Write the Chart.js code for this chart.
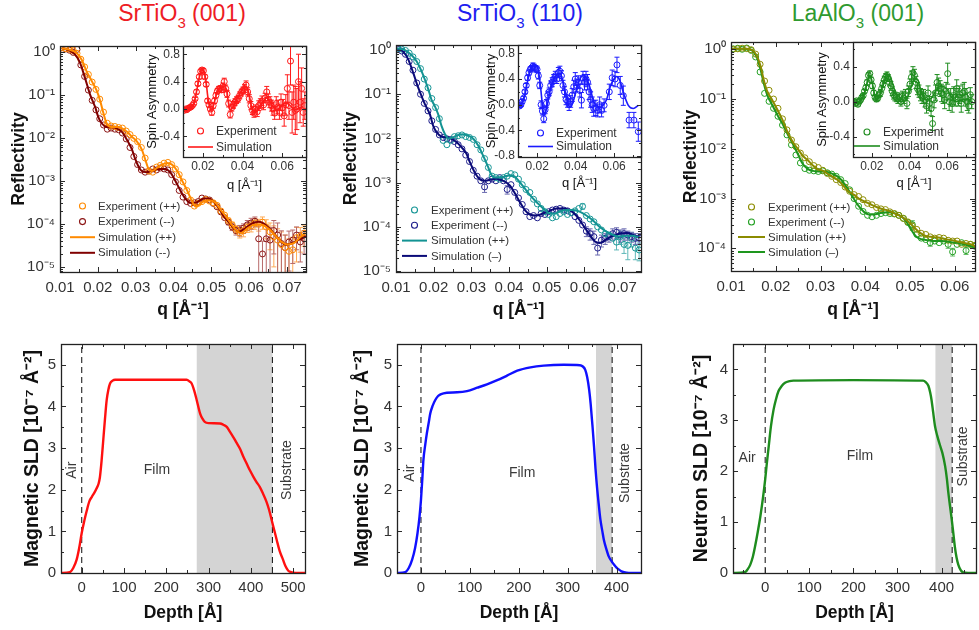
<!DOCTYPE html>
<html><head><meta charset="utf-8">
<script src="https://cdn.jsdelivr.net/npm/chart.js@4.4.1/dist/chart.umd.min.js"></script>
<style>
html,body{margin:0;padding:0;background:#fff}
body{width:979px;height:630px;position:relative;overflow:hidden;font-family:'Liberation Sans',Arial,sans-serif}
canvas{position:absolute}
.ttl{position:absolute;top:0;width:220px;text-align:center;font-size:23px;line-height:27px}
.ttl sub{font-size:15px;vertical-align:-7px;line-height:0}
</style></head><body>
<div class="ttl" style="left:72px;color:#ee1c25">SrTiO<sub>3</sub> (001)</div>
<div class="ttl" style="left:410px;color:#1e1ef0">SrTiO<sub>3</sub> (110)</div>
<div class="ttl" style="left:748px;color:#2f9a2f">LaAlO<sub>3</sub> (001)</div>
<script>
// ---------------- tick values / labels ----------------
const qTicks = [0.01,0.02,0.03,0.04,0.05,0.06,0.07];
const qTickLabels = ['0.01','0.02','0.03','0.04','0.05','0.06','0.07'];
const qTicksLAO = [0.01,0.02,0.03,0.04,0.05,0.06];
const qTickLabelsLAO = ['0.01','0.02','0.03','0.04','0.05','0.06'];
const reflTicks = [1,0.1,0.01,0.001,1e-4,1e-5];
const reflTickLabels = ['10⁰','10⁻¹','10⁻²','10⁻³','10⁻⁴','10⁻⁵'];
const reflTicksLAO = [1,0.1,0.01,0.001,1e-4];
const reflTickLabelsLAO = ['10⁰','10⁻¹','10⁻²','10⁻³','10⁻⁴'];
const insetQTicks = [0.02,0.04,0.06];
const insetQTickLabels = ['0.02','0.04','0.06'];
const saTicks001 = [-0.4,0,0.4,0.8];
const saTickLabels001 = ['-0.4','0.0','0.4','0.8'];
const saTicks110 = [-0.8,-0.4,0,0.4,0.8];
const saTickLabels110 = ['-0.8','-0.4','0.0','0.4','0.8'];
const saTicksLAO = [-0.4,0,0.4];
const saTickLabelsLAO = ['-0.4','0.0','0.4'];
const depthTicks500 = [0,100,200,300,400,500];
const depthTickLabels500 = ['0','100','200','300','400','500'];
const depthTicks400 = [0,100,200,300,400];
const depthTickLabels400 = ['0','100','200','300','400'];
const sldTicks5 = [0,1,2,3,4,5];
const sldTickLabels5 = ['0','1','2','3','4','5'];
const sldTicks4 = [0,1,2,3,4];
const sldTickLabels4 = ['0','1','2','3','4'];

// ---------------- SrTiO3 (001) ----------------
const sto001ExpUp = [[0.0105,1.25],[0.0115,1.2],[0.0125,1.16],[0.0135,1.08],[0.0145,0.93],[0.0155,0.68],[0.0165,0.45],[0.0175,0.3],[0.0185,0.2],[0.0195,0.135],[0.0205,0.08],[0.0215,0.04],[0.0225,0.022],[0.0235,0.019],[0.0245,0.0185],[0.0255,0.0175],[0.0265,0.017],[0.0275,0.0145],[0.0285,0.012],[0.0295,0.0098],[0.0305,0.0082],[0.0315,0.006],[0.0325,0.0034],[0.0335,0.0017],[0.0345,0.0016],[0.0355,0.0021],[0.0365,0.0023],[0.0375,0.0026],[0.0385,0.0027],[0.0395,0.0024],[0.0405,0.0019],[0.0415,0.0014],[0.0425,0.00095],[0.0435,0.0006],[0.0445,0.00036],[0.0455,0.00026],[0.0465,0.0003],[0.0475,0.00033],[0.0485,0.00037],[0.0495,0.00034],[0.0505,0.00031],[0.0515,0.00027],[0.0525,0.0002],[0.0535,0.00016],[0.0545,0.00012,1.5e-5],[0.0555,9.5e-5,1.5e-5],[0.0565,7.5e-5,1.5e-5],[0.0575,6.2e-5,1.5e-5],[0.0585,7e-5,2e-5],[0.0595,8.3e-5,2e-5],[0.0605,9e-5,2.5e-5],[0.0615,1.05e-4,3e-5],[0.0625,9.8e-5,3e-5],[0.0635,1.1e-4,3.5e-5],[0.0645,8.5e-5,4e-5],[0.0655,6.5e-5,4e-5],[0.0665,5e-5,4e-5],[0.0675,4.2e-5,3.5e-5],[0.0685,3.3e-5,3.2e-5],[0.0695,2.8e-5,2.7e-5],[0.0705,2.3e-5,2.2e-5],[0.0715,2.5e-5,2.4e-5],[0.0725,4.8e-5,3.5e-5],[0.0735,5.2e-5,3e-5],[0.0745,6e-5,3e-5]];
const sto001ExpDn = [[0.0105,1.25],[0.0115,1.18],[0.0125,1.1],[0.0135,0.98],[0.0145,1.15],[0.0155,0.5],[0.0165,0.27],[0.0175,0.13],[0.0185,0.075],[0.0195,0.045],[0.0205,0.028],[0.0215,0.02],[0.0225,0.016],[0.0235,0.017],[0.0245,0.016],[0.0255,0.0155],[0.0265,0.013],[0.0275,0.0095],[0.0285,0.006],[0.0295,0.0037],[0.0305,0.0024],[0.0315,0.0018],[0.0325,0.0016],[0.0335,0.0017],[0.0345,0.0019],[0.0355,0.0018],[0.0365,0.002],[0.0375,0.0019],[0.0385,0.0018],[0.0395,0.0014],[0.0405,0.00095],[0.0415,0.0006],[0.0425,0.00042],[0.0435,0.00033],[0.0445,0.0003],[0.0455,0.00031],[0.0465,0.00033],[0.0475,0.0004],[0.0485,0.00038],[0.0495,0.00036],[0.0505,0.0003],[0.0515,0.00025],[0.0525,0.00019],[0.0535,0.00014],[0.0545,0.00011,1.5e-5],[0.0555,8.5e-5,1.5e-5],[0.0565,7e-5,1.5e-5],[0.0575,7.2e-5,2e-5],[0.0585,8e-5,2e-5],[0.0595,9.5e-5,2.5e-5],[0.0605,1.05e-4,3e-5],[0.0615,1.15e-4,3e-5],[0.0625,4.5e-5,4.4e-5],[0.0635,2e-5,1.95e-5],[0.0645,4.5e-5,4.4e-5],[0.0655,4.2e-5,4.1e-5],[0.0665,7e-5,5e-5],[0.0675,5.5e-5,5e-5],[0.0685,3.5e-5,3.4e-5],[0.0695,2.8e-5,2.7e-5],[0.0705,3.8e-5,3e-5],[0.0715,4.2e-5,3e-5],[0.0725,5.5e-5,3e-5],[0.0735,3.8e-5,2.5e-5],[0.0745,4.5e-5,2.5e-5]];
const sto001SimUp = [[0.0104,1.23],[0.0126,1.12],[0.0144,0.95],[0.0157,0.67],[0.017,0.36],[0.0184,0.21],[0.0197,0.126],[0.0206,0.074],[0.0215,0.037],[0.0223,0.022],[0.0236,0.018],[0.025,0.018],[0.0263,0.017],[0.0277,0.014],[0.029,0.0107],[0.0303,0.0083],[0.0316,0.0054],[0.0325,0.0032],[0.0334,0.0019],[0.0343,0.0017],[0.0356,0.002],[0.037,0.0024],[0.0383,0.0026],[0.0396,0.0024],[0.041,0.0017],[0.0423,0.001],[0.0436,0.0006],[0.045,0.00032],[0.0459,0.00025],[0.0472,0.0003],[0.0485,0.00035],[0.0499,0.00035],[0.0512,0.0003],[0.0525,0.00021],[0.0539,0.000147],[0.0552,0.0001],[0.0565,7.2e-5],[0.0578,6.1e-5],[0.0596,8e-5],[0.0614,9.5e-5],[0.0632,9.5e-5],[0.0649,8e-5],[0.0667,5.6e-5],[0.0684,3.9e-5],[0.0702,3.3e-5],[0.0719,3.6e-5],[0.0737,5.1e-5],[0.075,6.1e-5]];
const sto001SimDn = [[0.0104,1.23],[0.0126,1.07],[0.014,0.87],[0.0153,0.56],[0.0166,0.25],[0.0179,0.105],[0.0193,0.052],[0.0201,0.031],[0.021,0.022],[0.0223,0.018],[0.0236,0.0177],[0.025,0.0167],[0.0263,0.014],[0.0277,0.009],[0.029,0.0054],[0.0299,0.0032],[0.0307,0.0022],[0.0316,0.0017],[0.0329,0.0016],[0.0347,0.0018],[0.0365,0.0019],[0.0378,0.0019],[0.0391,0.0016],[0.0405,0.001],[0.0418,0.0006],[0.0431,0.00039],[0.0444,0.00031],[0.0462,0.00032],[0.048,0.00039],[0.0493,0.00039],[0.0507,0.00032],[0.052,0.00023],[0.0533,0.000147],[0.0546,0.00011],[0.0559,7.9e-5],[0.0573,6.6e-5],[0.059,7.9e-5],[0.0608,0.000103],[0.0626,0.000112],[0.0643,9.5e-5],[0.0661,6.6e-5],[0.0679,4.3e-5],[0.0696,3.3e-5],[0.0714,3.6e-5],[0.0732,4.3e-5],[0.075,5.1e-5]];
const sto001SaExp = [[0.0105,-0.02,0.02],[0.0112,0,0.02],[0.0119,-0.01,0.02],[0.0126,0.01,0.02],[0.0133,0.02,0.02],[0.014,0.03,0.02],[0.0147,0.05,0.02],[0.0154,0.08,0.02],[0.0161,0.15,0.02],[0.0168,0.25,0.03],[0.0175,0.37,0.03],[0.0182,0.47,0.03],[0.0189,0.55,0.03],[0.0196,0.57,0.03],[0.0203,0.56,0.03],[0.021,0.47,0.03],[0.0217,0.36,0.03],[0.0224,0.12,0.03],[0.0231,0.06,0.03],[0.0238,0,0.03],[0.0245,-0.05,0.04],[0.0252,0.05,0.04],[0.0259,0.12,0.04],[0.0266,0.2,0.04],[0.0273,0.26,0.04],[0.028,0.29,0.04],[0.0287,0.3,0.04],[0.0294,0.28,0.04],[0.0301,0.33,0.05],[0.0308,0.4,0.05],[0.0315,0.3,0.05],[0.0322,0.22,0.05],[0.033,0.08,0.05],[0.0338,-0.08,0.05],[0.0346,0.02,0.05],[0.0354,0.06,0.05],[0.0362,0.1,0.05],[0.037,0.13,0.05],[0.0378,0.15,0.05],[0.0386,0.2,0.05],[0.0394,0.24,0.05],[0.0402,0.27,0.05],[0.041,0.3,0.06],[0.0418,0.35,0.06],[0.0426,0.25,0.06],[0.0434,0.15,0.06],[0.0442,0.05,0.06],[0.045,-0.02,0.06],[0.0458,-0.06,0.06],[0.0466,0,0.06],[0.0474,-0.04,0.07],[0.0482,0.05,0.07],[0.049,0.08,0.07],[0.0498,0.12,0.07],[0.0506,0.06,0.07],[0.0514,0.16,0.07],[0.0522,0.25,0.08],[0.053,0.14,0.08],[0.0538,0.1,0.08],[0.0546,0.05,0.08],[0.0554,0,0.09],[0.0562,-0.06,0.09],[0.057,0.08,0.1],[0.0578,0.03,0.1],[0.0586,-0.05,0.1],[0.0594,0.1,0.12],[0.0602,0.02,0.12],[0.061,-0.1,0.15],[0.0618,0.06,0.15],[0.0626,0.3,0.2],[0.0634,0.05,0.2],[0.0642,0.7,0.35],[0.065,-0.05,0.3],[0.0658,0.1,0.25],[0.0666,-0.02,0.35],[0.0674,0,0.3],[0.0682,0.4,0.4],[0.069,0.1,0.3],[0.0698,0.3,0.3],[0.0706,-0.05,0.2],[0.0714,0.05,0.2]];
const sto001SaSim = [[0.0112,-0.01],[0.0137,0.015],[0.0153,0.06],[0.017,0.28],[0.0183,0.47],[0.0195,0.57],[0.0207,0.54],[0.0217,0.38],[0.0225,0.18],[0.0237,0.015],[0.0245,-0.01],[0.0257,0.087],[0.027,0.23],[0.0287,0.3],[0.0303,0.33],[0.032,0.28],[0.0328,0.11],[0.0337,-0.01],[0.0353,0.04],[0.0378,0.18],[0.0403,0.3],[0.042,0.33],[0.0432,0.23],[0.0445,0.04],[0.0457,-0.05],[0.047,-0.03],[0.0487,0.04],[0.0503,0.11],[0.052,0.16],[0.0537,0.11],[0.0553,0.04],[0.057,-0.01],[0.0587,0.015],[0.0603,0.06],[0.062,0.087],[0.0637,0.06],[0.0653,0.015],[0.067,-0.01],[0.0687,0.015],[0.0703,0.04]];
const sto001Sld = [[-49,0],[-28,0.02],[-20,0.12],[-12,0.32],[-6,0.6],[0,0.96],[6,1.25],[12,1.5],[18,1.72],[24,1.83],[30,1.93],[35,2.03],[40,2.15],[43,2.3],[47,2.7],[51,3.2],[55,3.7],[59,4.15],[63,4.4],[67,4.55],[73,4.62],[79,4.64],[150,4.64],[248,4.64],[255,4.6],[260,4.55],[266,4.38],[272,4.15],[280,3.83],[286,3.7],[291,3.63],[300,3.6],[327,3.59],[335,3.56],[343,3.51],[350,3.4],[358,3.27],[366,3.13],[374,2.99],[382,2.8],[390,2.63],[398,2.46],[406,2.31],[413,2.19],[421,2.07],[429,1.9],[437,1.71],[443,1.52],[449,1.28],[455,1.04],[461,0.8],[468,0.53],[476,0.32],[482,0.16],[488,0.06],[495,0.02],[505,0],[528,0]];
const sto001Shade = [272,451];
const sto001Walls = [0,451];

// ---------------- SrTiO3 (110) ----------------
const sto110ExpUp = [[0.0105,1.1],[0.0115,1.05],[0.0125,0.98],[0.0135,0.85],[0.0145,0.7],[0.0155,0.55],[0.0165,0.38],[0.0175,0.22],[0.0185,0.14],[0.0195,0.08],[0.0205,0.05],[0.0215,0.028],[0.0225,0.009],[0.0235,0.0072],[0.0245,0.009],[0.0255,0.011],[0.0265,0.0115],[0.0275,0.012],[0.0285,0.011],[0.0295,0.0105],[0.0305,0.0095],[0.0315,0.0072],[0.0325,0.0055],[0.0335,0.0035],[0.0345,0.0022],[0.0355,0.0014],[0.0365,0.0013],[0.0375,0.0012],[0.0385,0.0013],[0.0395,0.0014],[0.0405,0.0016],[0.0415,0.0015],[0.0425,0.0012],[0.0435,0.0009],[0.0445,0.0007],[0.0455,0.0006],[0.0465,0.00042],[0.0475,0.00033],[0.0485,0.00026],[0.0495,0.00022],[0.0505,0.00019],[0.0515,0.00016],[0.0525,0.00017],[0.0535,0.0002],[0.0545,0.00022],[0.0555,0.00019],[0.0565,0.00021],[0.0575,0.00023],[0.0585,0.00026],[0.0595,0.00029,4e-5],[0.0605,0.00018],[0.0615,0.00015],[0.0625,0.00013],[0.0635,0.0001],[0.0645,8.5e-5],[0.0655,7e-5],[0.0665,6.5e-5],[0.0675,5.5e-5],[0.0685,4.5e-5,1.5e-5],[0.0695,6e-5,2e-5],[0.0705,4e-5,1.5e-5],[0.0715,3.8e-5,2e-5],[0.0725,5.5e-5,2e-5],[0.0735,3.3e-5,1.5e-5],[0.0745,3e-5,1.3e-5]];
const sto110ExpDn = [[0.0105,1.05],[0.0115,0.95],[0.0125,0.8],[0.0135,0.55],[0.0145,0.35],[0.0155,0.18],[0.0165,0.1],[0.0175,0.062],[0.0185,0.042],[0.0195,0.025],[0.0205,0.016],[0.0215,0.012],[0.0225,0.0105],[0.0235,0.0098],[0.0245,0.0095],[0.0255,0.0085],[0.0265,0.0072],[0.0275,0.0058],[0.0285,0.0042],[0.0295,0.003],[0.0305,0.0019],[0.0315,0.0014],[0.0325,0.0011],[0.0335,0.0008,2e-4],[0.0345,0.0011],[0.0355,0.0012],[0.0365,0.0011],[0.0375,0.0013],[0.0385,0.0011],[0.0395,0.0007,1.5e-4],[0.0405,0.0009],[0.0415,0.0006],[0.0425,0.00045],[0.0435,0.00032],[0.0445,0.00022],[0.0455,0.00017],[0.0465,0.00018],[0.0475,0.00016],[0.0485,0.0002],[0.0495,0.00019],[0.0505,0.00022],[0.0515,0.00024],[0.0525,0.00025],[0.0535,0.00026],[0.0545,0.00024],[0.0555,0.00023],[0.0565,0.00021],[0.0575,0.00017],[0.0585,0.00014],[0.0595,0.00011],[0.0605,8e-5,2e-5],[0.0615,7e-5,2e-5],[0.0625,6e-5,2e-5],[0.0635,3.3e-5,1e-5],[0.0645,5e-5,1.5e-5],[0.0655,5.5e-5,1.5e-5],[0.0665,6e-5,1.5e-5],[0.0675,7e-5,2e-5],[0.0685,7.5e-5,2e-5],[0.0695,6.5e-5,2e-5],[0.0705,7e-5,2e-5],[0.0715,6.5e-5,1.5e-5],[0.0725,6e-5,1.5e-5],[0.0735,5.5e-5,1.5e-5],[0.0745,5.5e-5,1.5e-5]];
const sto110SimUp = [[0.0102,1.09],[0.0124,1.0],[0.0141,0.77],[0.0155,0.55],[0.0168,0.33],[0.0177,0.21],[0.0186,0.127],[0.0194,0.076],[0.0203,0.054],[0.0212,0.035],[0.0221,0.019],[0.023,0.0125],[0.0239,0.01],[0.0252,0.0106],[0.0265,0.012],[0.0278,0.0125],[0.0292,0.0115],[0.0305,0.0098],[0.0318,0.0069],[0.0331,0.0041],[0.0344,0.0023],[0.0353,0.0015],[0.0362,0.0013],[0.0375,0.0013],[0.0389,0.00137],[0.0402,0.00146],[0.0415,0.00137],[0.0428,0.00103],[0.0442,0.00073],[0.0455,0.00053],[0.0468,0.0004],[0.0481,0.00031],[0.0495,0.00024],[0.0508,0.0002],[0.0521,0.0002],[0.0534,0.00022],[0.0552,0.00024],[0.057,0.00024],[0.0587,0.00022],[0.0605,0.00018],[0.0622,0.00014],[0.064,0.0001],[0.0658,7.8e-5],[0.0675,6.6e-5],[0.0693,6e-5],[0.0711,6.3e-5],[0.0728,6.3e-5],[0.0746,5.7e-5]];
const sto110SimDn = [[0.0102,1.09],[0.0119,0.92],[0.0133,0.6],[0.0146,0.3],[0.0156,0.165],[0.0168,0.09],[0.0177,0.059],[0.019,0.035],[0.0199,0.019],[0.0208,0.0137],[0.0221,0.011],[0.0234,0.0106],[0.0247,0.0098],[0.0261,0.0082],[0.0274,0.0063],[0.0287,0.0045],[0.0296,0.0029],[0.0309,0.0017],[0.0322,0.0012],[0.0336,0.0011],[0.0349,0.00116],[0.0367,0.00122],[0.0384,0.0011],[0.0402,0.00086],[0.0415,0.00058],[0.0428,0.00037],[0.0442,0.00024],[0.0455,0.00019],[0.0472,0.00018],[0.049,0.0002],[0.0508,0.00023],[0.0525,0.00026],[0.0543,0.00026],[0.0561,0.00024],[0.0578,0.00018],[0.0596,0.00011],[0.0614,6.6e-5],[0.0627,4.7e-5],[0.064,4.3e-5],[0.0658,5.2e-5],[0.0675,6.3e-5],[0.0693,7e-5],[0.0711,7.2e-5],[0.0728,6.6e-5],[0.0746,5.7e-5]];
const sto110SaExp = [[0.0108,-0.02,0.03],[0.0115,0,0.03],[0.0122,0.05,0.03],[0.0129,0.1,0.03],[0.0136,0.2,0.03],[0.0143,0.3,0.03],[0.015,0.42,0.04],[0.0157,0.5,0.04],[0.0164,0.55,0.04],[0.0171,0.57,0.04],[0.0178,0.6,0.05],[0.0185,0.58,0.05],[0.0192,0.56,0.05],[0.0199,0.55,0.05],[0.0206,0.45,0.05],[0.0213,0.3,0.05],[0.022,0,0.06],[0.0227,-0.1,0.06],[0.0234,-0.22,0.06],[0.0241,-0.08,0.06],[0.0248,0.02,0.06],[0.0255,0.15,0.06],[0.0262,0.2,0.06],[0.027,0.3,0.07],[0.0278,0.35,0.07],[0.0286,0.4,0.07],[0.0294,0.45,0.07],[0.0302,0.4,0.07],[0.031,0.5,0.08],[0.0318,0.52,0.08],[0.0326,0.45,0.08],[0.0334,0.3,0.08],[0.0342,0.2,0.08],[0.035,0.08,0.08],[0.0358,0.05,0.09],[0.0366,0,0.09],[0.0374,0.05,0.09],[0.0382,0.15,0.1],[0.039,0.28,0.1],[0.0398,0.4,0.1],[0.0406,0.3,0.1],[0.0414,0.35,0.1],[0.0422,0.22,0.1],[0.043,0.07,0.12],[0.0438,0.42,0.1],[0.0446,0.35,0.12],[0.0454,0.4,0.12],[0.0462,0.35,0.12],[0.047,0.2,0.12],[0.0478,0.08,0.12],[0.0486,0,0.12],[0.0494,-0.06,0.12],[0.0505,-0.05,0.12],[0.0515,-0.09,0.1],[0.0525,0,0.12],[0.0535,-0.09,0.1],[0.0548,-0.01,0.1],[0.0575,0.2,0.12],[0.059,0.42,0.12],[0.0605,0.4,0.12],[0.0615,0.62,0.12],[0.0632,0.3,0.14],[0.0648,0.14,0.15],[0.0678,-0.24,0.12],[0.0703,-0.24,0.12],[0.0726,-0.42,0.15]];
const sto110SaSim = [[0.011,-0.01],[0.0131,0.09],[0.0148,0.34],[0.0166,0.55],[0.0186,0.61],[0.0203,0.57],[0.0217,0.29],[0.0229,-0.06],[0.0238,-0.16],[0.0252,-0.01],[0.0269,0.24],[0.0286,0.39],[0.0303,0.47],[0.0317,0.49],[0.0329,0.42],[0.0347,0.19],[0.036,0.015],[0.0372,-0.035],[0.0386,0.04],[0.0403,0.22],[0.0421,0.39],[0.0438,0.45],[0.0455,0.42],[0.0472,0.29],[0.049,0.09],[0.0507,-0.02],[0.0528,-0.035],[0.0545,0],[0.0562,0.09],[0.0579,0.27],[0.0597,0.39],[0.0614,0.44],[0.0631,0.37],[0.0648,0.19],[0.0674,-0.01],[0.07,-0.06],[0.0726,-0.01]];
const sto110Sld = [[-49,0],[-32,0.02],[-25,0.12],[-18,0.32],[-12,0.6],[-7,0.96],[-3,1.35],[0,1.75],[3,2.3],[5,2.71],[9,3.1],[12,3.35],[16,3.62],[19,3.83],[24,4.02],[29,4.15],[35,4.25],[40,4.29],[53,4.33],[74,4.34],[94,4.37],[115,4.45],[135,4.53],[156,4.63],[176,4.74],[197,4.86],[224,4.94],[251,4.98],[292,5.0],[325,4.99],[331,4.96],[336,4.88],[340,4.7],[344,4.4],[347,4.07],[351,3.5],[354,3.03],[357,2.5],[360,2.07],[364,1.6],[367,1.28],[371,1.0],[374,0.8],[379,0.58],[384,0.4],[390,0.28],[395,0.2],[400,0.13],[405,0.08],[410,0.04],[415,0.02],[425,0],[450,0]];
const sto110Shade = [358,391];
const sto110Walls = [0,391];

// ---------------- LaAlO3 (001) ----------------
const laoExpUp = [[0.0105,1.0],[0.0115,1.02],[0.0125,1.05],[0.0135,1.03],[0.0145,0.98],[0.0155,0.8],[0.0165,0.5],[0.0175,0.23],[0.0185,0.15],[0.0195,0.1],[0.0205,0.065],[0.0215,0.04],[0.0225,0.024],[0.0235,0.015],[0.0245,0.011],[0.0255,0.0082],[0.0265,0.0066],[0.0275,0.0055],[0.0285,0.0046],[0.0295,0.0042],[0.0305,0.0037],[0.0315,0.0032],[0.0325,0.0028],[0.0335,0.0024],[0.0345,0.0021],[0.0355,0.0017],[0.0365,0.0014],[0.0375,0.0012],[0.0385,0.0011],[0.0395,0.00095],[0.0405,0.0008],[0.0415,0.00075],[0.0425,0.00066],[0.0435,0.00062],[0.0445,0.0006],[0.0455,0.00054],[0.0465,0.0005],[0.0475,0.00046],[0.0485,0.0004],[0.0495,0.00034],[0.0505,0.00028,5e-5],[0.0515,0.00024],[0.0525,0.0002],[0.0535,0.00019],[0.0545,0.00017],[0.0555,0.00016],[0.0565,0.000165],[0.0575,0.00016],[0.0585,0.000145],[0.0595,0.00014],[0.0605,0.00014],[0.0615,0.00012],[0.0625,0.000125],[0.0635,0.00012],[0.0645,0.000115]];
const laoExpDn = [[0.0105,1.02],[0.0115,1.05],[0.0125,1.0],[0.0135,1.06],[0.0145,0.95],[0.0155,0.7],[0.0165,0.35],[0.0175,0.13],[0.0185,0.09],[0.0195,0.065],[0.0205,0.045],[0.0215,0.03],[0.0225,0.019],[0.0235,0.012],[0.0245,0.0075],[0.0255,0.0052],[0.0265,0.004],[0.0275,0.0037],[0.0285,0.0036],[0.0295,0.0035],[0.0305,0.0036],[0.0315,0.0033],[0.0325,0.0031],[0.0335,0.0028],[0.0345,0.0024],[0.0355,0.002],[0.0365,0.0015],[0.0375,0.001],[0.0385,0.0007],[0.0395,0.00055],[0.0405,0.00046],[0.0415,0.00043],[0.0425,0.00046],[0.0435,0.0005],[0.0445,0.00052],[0.0455,0.0005],[0.0465,0.00049],[0.0475,0.00046],[0.0485,0.0004],[0.0495,0.00033],[0.0505,0.0003,6e-5],[0.0515,0.00019],[0.0525,0.00016],[0.0535,0.00015],[0.0545,0.00013,2e-5],[0.0555,0.00014],[0.0565,0.00013],[0.0575,0.00014],[0.0585,0.00012,2e-5],[0.0595,8.5e-5,1.5e-5],[0.0605,0.00012],[0.0615,0.00013],[0.0625,9e-5,1.5e-5],[0.0635,0.00012],[0.0645,0.00011]];
const laoSimUp = [[0.01,1.03],[0.0132,1.03],[0.0147,0.97],[0.0158,0.73],[0.0166,0.46],[0.0173,0.245],[0.0181,0.142],[0.0192,0.096],[0.0204,0.06],[0.0215,0.038],[0.0226,0.022],[0.0238,0.0137],[0.0249,0.01],[0.026,0.0073],[0.0272,0.0058],[0.0283,0.0046],[0.0294,0.0039],[0.0306,0.0036],[0.0317,0.0031],[0.0328,0.0027],[0.034,0.0023],[0.0351,0.0018],[0.0362,0.0014],[0.0374,0.0012],[0.0389,0.00096],[0.0404,0.00083],[0.0419,0.00071],[0.0434,0.00063],[0.0449,0.00058],[0.0464,0.00051],[0.048,0.00044],[0.0495,0.00035],[0.0506,0.00028],[0.0518,0.00022],[0.0533,0.00018],[0.0548,0.00017],[0.0563,0.000165],[0.0578,0.000153],[0.0593,0.000146],[0.0608,0.000135],[0.0624,0.000126],[0.0639,0.000118],[0.065,0.0001]];
const laoSimDn = [[0.01,1.03],[0.0132,1.03],[0.0147,0.95],[0.0158,0.68],[0.0166,0.39],[0.0173,0.21],[0.0181,0.12],[0.0192,0.076],[0.0204,0.047],[0.0215,0.032],[0.0226,0.02],[0.0238,0.0126],[0.0249,0.0079],[0.026,0.005],[0.0272,0.0039],[0.0283,0.0036],[0.0294,0.0035],[0.0306,0.0035],[0.0317,0.0034],[0.0328,0.0031],[0.034,0.0027],[0.0351,0.0021],[0.0362,0.0015],[0.0374,0.001],[0.0385,0.00071],[0.0397,0.00054],[0.0408,0.00048],[0.0419,0.00048],[0.0434,0.00051],[0.0449,0.00053],[0.0464,0.00051],[0.048,0.00044],[0.0491,0.00035],[0.0502,0.00024],[0.0514,0.00017],[0.0525,0.000153],[0.054,0.000146],[0.0555,0.00014],[0.057,0.00014],[0.0586,0.000135],[0.0601,0.00013],[0.0616,0.000124],[0.0631,0.000114],[0.065,0.0001]];
const laoSaExp = [[0.0105,0,0.02],[0.0112,-0.02,0.02],[0.0119,0.01,0.02],[0.0126,-0.03,0.02],[0.0133,0,0.02],[0.014,0.02,0.02],[0.0147,0.05,0.02],[0.0154,0.07,0.02],[0.0161,0.12,0.02],[0.0168,0.16,0.03],[0.0175,0.22,0.03],[0.0182,0.3,0.03],[0.0189,0.32,0.03],[0.0196,0.25,0.03],[0.0203,0.18,0.03],[0.021,0.1,0.03],[0.0217,0.05,0.03],[0.0224,0.03,0.03],[0.0231,0.04,0.03],[0.0238,0.08,0.03],[0.0245,0.1,0.04],[0.0252,0.15,0.04],[0.0259,0.2,0.04],[0.0266,0.25,0.04],[0.0273,0.28,0.04],[0.028,0.3,0.04],[0.0287,0.27,0.04],[0.0294,0.22,0.04],[0.0301,0.18,0.05],[0.0308,0.12,0.05],[0.0315,0.08,0.05],[0.0322,0.06,0.05],[0.033,0.05,0.05],[0.0338,0.03,0.05],[0.0346,0.05,0.05],[0.0354,0,0.05],[0.0362,0.06,0.06],[0.037,0.04,0.06],[0.0378,0.08,0.06],[0.0386,-0.02,0.06],[0.0394,0.12,0.06],[0.0402,0.2,0.06],[0.041,0.28,0.07],[0.0418,0.33,0.07],[0.0426,0.3,0.07],[0.0434,0.22,0.07],[0.0442,0.15,0.07],[0.045,0.12,0.07],[0.0458,0.08,0.07],[0.0466,0.05,0.07],[0.0474,0.06,0.08],[0.0482,0.02,0.08],[0.049,-0.05,0.08],[0.0498,0.1,0.08],[0.0506,-0.02,0.08],[0.0514,-0.08,0.08],[0.0522,-0.25,0.08],[0.053,0.02,0.09],[0.0538,0.1,0.09],[0.0546,0.22,0.09],[0.0554,0.18,0.09],[0.0562,0.15,0.09],[0.057,0.1,0.1],[0.0578,0.08,0.1],[0.0586,0.02,0.1],[0.0594,0.12,0.1],[0.0602,0.32,0.12],[0.061,0,0.1],[0.0618,0.05,0.1],[0.0626,-0.02,0.1],[0.0634,0.07,0.1],[0.0642,0.05,0.1],[0.065,0.15,0.1],[0.0658,0.05,0.1],[0.0666,0.08,0.1],[0.0674,-0.02,0.1],[0.0682,0.1,0.1],[0.069,0.12,0.1],[0.0698,0.05,0.1],[0.0706,0,0.1],[0.0714,-0.05,0.08],[0.0722,0.08,0.08],[0.073,0,0.08]];
const laoSaSim = [[0.0108,-0.02],[0.0135,0],[0.0161,0.095],[0.0179,0.25],[0.0191,0.3],[0.0205,0.19],[0.0219,0.04],[0.0232,0.027],[0.025,0.13],[0.0276,0.27],[0.0294,0.29],[0.0312,0.19],[0.0333,0.057],[0.0356,0],[0.0382,0.02],[0.0409,0.17],[0.0427,0.27],[0.0444,0.25],[0.0462,0.11],[0.0488,0.02],[0.0515,0.04],[0.0542,0.13],[0.0568,0.18],[0.0595,0.15],[0.0621,0.057],[0.0648,0],[0.0674,0.02],[0.0701,0.027],[0.0727,0]];
const laoSld = [[-73,0],[-45,0.02],[-40,0.07],[-34,0.16],[-28,0.32],[-23,0.52],[-17,0.8],[-11,1.11],[-5,1.48],[0,1.84],[4,2.18],[8,2.49],[13,2.88],[19,3.21],[25,3.43],[30,3.57],[37,3.67],[45,3.74],[55,3.77],[64,3.78],[200,3.79],[358,3.78],[364,3.75],[370,3.68],[374,3.55],[377,3.41],[381,3.15],[385,2.89],[390,2.7],[396,2.52],[402,2.35],[408,2.1],[412,1.85],[415,1.6],[419,1.32],[423,1.05],[427,0.75],[430,0.52],[434,0.3],[438,0.16],[443,0.06],[449,0.01],[460,0],[478,0]];
const laoShade = [386,424];
const laoWalls = [0,424];

// ---------------- drawing helpers ----------------
const FONT = "'Liberation Sans', Arial, sans-serif";
function hasFont(name){
  const c = document.createElement('canvas').getContext('2d');
  const s = 'abcdefghijklmnopqrstuvwxyz0123456789';
  c.font = '40px monospace'; const a = c.measureText(s).width;
  c.font = '40px "' + name + '", monospace'; const b = c.measureText(s).width;
  return Math.abs(a - b) > 0.5;
}
const NARROW = hasFont('Liberation Sans Narrow');
const TFONT = NARROW ? "'Liberation Sans Narrow', 'Liberation Sans', sans-serif" : FONT;
const SZ = NARROW ? {main: 17.5, inset: 13.5, legend: 13.5, ilegend: 13} : {main: 15, inset: 12, legend: 11.5, ilegend: 12};
const TXT = '#333';

function minorLinear(maj, min, max){
  const st = maj[1]-maj[0], out=[];
  for (let v = maj[0]-st/2; v <= max+1e-9; v += st) if (v >= min-1e-9) out.push(v);
  return out;
}
function minorLog(min, max){
  const out=[];
  for (let e = Math.floor(Math.log10(min)); e <= Math.ceil(Math.log10(max)); e++)
    for (let k = 2; k <= 9; k++){ const v = k*Math.pow(10,e); if (v>=min && v<=max) out.push(v); }
  return out;
}
function makeDeco(cfg){
  return {
    id:'deco',
    beforeDraw(c){
      const {ctx, chartArea:r} = c;
      if (cfg.fill){ ctx.save(); ctx.fillStyle = cfg.fill; ctx.fillRect(r.left, r.top, r.width, r.height); ctx.restore(); }
    },
    beforeDatasetsDraw(c){
      const {ctx, chartArea:r, scales:{x,y}} = c;
      ctx.save();
      if (cfg.shade){ const a = x.getPixelForValue(cfg.shade[0]), b = x.getPixelForValue(cfg.shade[1]); ctx.fillStyle = '#d4d4d4'; ctx.fillRect(a, r.top, b-a, r.height); }
      ctx.beginPath(); ctx.rect(r.left, r.top, r.width, r.height); ctx.clip();
      c.data.datasets.forEach(ds => {
        if (!ds.errors) return;
        ctx.strokeStyle = ds.errColor || ds.borderColor; ctx.lineWidth = 1;
        ds.data.forEach((pt, i) => {
          const e = ds.errors[i]; if (!e) return;
          const px = x.getPixelForValue(pt.x);
          const lo = pt.y - e, hi = pt.y + e;
          const pl = (y.type === 'logarithmic' && lo <= 0) ? r.bottom + 3 : y.getPixelForValue(lo);
          const ph = y.getPixelForValue(hi);
          ctx.beginPath();
          ctx.moveTo(px, pl); ctx.lineTo(px, ph);
          ctx.moveTo(px-2.5, pl); ctx.lineTo(px+2.5, pl);
          ctx.moveTo(px-2.5, ph); ctx.lineTo(px+2.5, ph);
          ctx.stroke();
        });
      });
      ctx.restore();
    },
    afterDraw(c){
      const {ctx, chartArea:r, scales:{x,y}} = c;
      ctx.save();
      ctx.strokeStyle = '#2b2b2b'; ctx.lineWidth = 1;
      ctx.beginPath();
      const ml = cfg.majLen || 5, nl = cfg.minLen || 3;
      const xt = (list, len) => list.forEach(v => { const p = Math.round(x.getPixelForValue(v))+0.5; ctx.moveTo(p, r.bottom); ctx.lineTo(p, r.bottom-len); ctx.moveTo(p, r.top); ctx.lineTo(p, r.top+len); });
      const yt = (list, len) => list.forEach(v => { const p = Math.round(y.getPixelForValue(v))+0.5; ctx.moveTo(r.left, p); ctx.lineTo(r.left+len, p); ctx.moveTo(r.right, p); ctx.lineTo(r.right-len, p); });
      xt(cfg.xMaj, ml); xt(cfg.xMin, nl); yt(cfg.yMaj, ml); yt(cfg.yMin, nl);
      ctx.stroke();
      ctx.lineWidth = 1.3; ctx.strokeStyle = '#222';
      ctx.strokeRect(Math.round(r.left)+0.5, Math.round(r.top)+0.5, Math.round(r.width), Math.round(r.height));
      if (cfg.legend){
        const L = cfg.legend, ds = c.data.datasets;
        ctx.font = L.size + 'px ' + TFONT; ctx.textBaseline = 'middle'; ctx.textAlign = 'left';
        L.items.forEach((idx, k) => {
          const d = ds[idx]; const yy = r.top + L.y + k*L.dy; const x0 = r.left + L.x;
          if (d.showLine === false){
            ctx.beginPath(); ctx.strokeStyle = d.borderColor; ctx.lineWidth = 1.1;
            ctx.arc(x0 + L.w/2, yy, 3, 0, Math.PI*2); ctx.stroke();
          } else {
            ctx.beginPath(); ctx.strokeStyle = d.borderColor; ctx.lineWidth = d.borderWidth;
            ctx.moveTo(x0, yy); ctx.lineTo(x0 + L.w, yy); ctx.stroke();
          }
          ctx.fillStyle = TXT; ctx.fillText(d.label, x0 + L.w + L.gap, yy + 0.5);
        });
      }
      if (cfg.notes){
        ctx.fillStyle = '#3a3a3a'; ctx.font = '14px ' + TFONT; ctx.textAlign = 'center'; ctx.textBaseline = 'middle';
        cfg.notes.forEach(n => {
          ctx.save(); ctx.translate(x.getPixelForValue(n.x), y.getPixelForValue(n.y));
          if (n.rot) ctx.rotate(-Math.PI/2);
          ctx.fillText(n.t, 0, 0); ctx.restore();
        });
      }
      ctx.restore();
    }
  };
}

function build(p){
  const lhY = p.yTitleSize*1.2, lhX = p.xTitleSize*1.2;
  const L = Math.round(p.box.l - p.yTitleX + lhY/2 + 2);
  const B = Math.round(p.xTitleY - p.box.b + lhX/2 + 2);
  const T = p.padT, R = p.padR;
  const cx = p.box.l - L, cy = p.box.t - T;
  const w = p.box.r + R - cx, h = p.box.b + B - cy;
  const cv = document.createElement('canvas');
  cv.width = w; cv.height = h; cv.style.left = cx+'px'; cv.style.top = cy+'px';
  cv.style.width = w+'px'; cv.style.height = h+'px';
  document.body.appendChild(cv);
  const tickFont = {family: TFONT, size: p.tickSize};
  const wt = p.bold ? 'bold' : 'normal';
  const deco = Object.assign({}, p.deco, {
    xMaj: p.x.ticks, xMin: minorLinear(p.x.ticks, p.x.min, p.x.max),
    yMaj: p.y.ticks, yMin: p.y.type === 'logarithmic' ? minorLog(p.y.min, p.y.max) : minorLinear(p.y.ticks, p.y.min, p.y.max)
  });
  return new Chart(cv, {
    type: 'line',
    data: {datasets: p.datasets},
    options: {
      responsive: false, animation: false, devicePixelRatio: 1,
      layout: {padding: {left: 0, right: R, top: T, bottom: 0}},
      plugins: {legend: {display: false}, tooltip: {enabled: false}},
      scales: {
        x: {type: 'linear', position: 'bottom', min: p.x.min, max: p.x.max,
          afterFit(s){ s.height = B; },
          afterBuildTicks(s){ s.ticks = p.x.ticks.map(v => ({value: v})); },
          ticks: {callback: (v, i) => p.x.labels[i], font: tickFont, color: TXT, padding: p.xPad, maxRotation: 0, autoSkip: false, includeBounds: false},
          grid: {display: false, drawTicks: false}, border: {display: false},
          title: {display: true, text: p.x.title, font: {family: FONT, size: p.xTitleSize, weight: wt, lineHeight: 1.2}, color: '#111', padding: {top: 2, bottom: 2}}},
        y: {type: p.y.type, position: 'left', min: p.y.min, max: p.y.max,
          afterFit(s){ s.width = L; },
          afterBuildTicks(s){ s.ticks = p.y.ticks.map(v => ({value: v})); },
          ticks: {callback: (v, i) => p.y.labels[i], font: tickFont, color: TXT, padding: p.yPad, autoSkip: false, includeBounds: false},
          grid: {display: false, drawTicks: false}, border: {display: false},
          title: {display: true, text: p.y.title, font: {family: FONT, size: p.yTitleSize, weight: wt, lineHeight: 1.2}, color: '#111', padding: {top: 2, bottom: 2}}}
      }
    },
    plugins: [makeDeco(deco)]
  });
}

const pts = a => a.map(d => ({x: d[0], y: d[1]}));
const errs = a => a.map(d => d[2] || 0);
function expDs(label, arr, col, ecol, r){
  return {label, data: pts(arr), errors: errs(arr), errColor: ecol, showLine: false, borderColor: col,
    pointBorderColor: col, pointBackgroundColor: 'rgba(0,0,0,0)', pointRadius: r || 3, pointBorderWidth: 1, order: 1};
}
function simDs(label, arr, col, wdt){
  return {label, data: pts(arr), showLine: true, borderColor: col, borderWidth: wdt || 2, pointRadius: 0,
    cubicInterpolationMode: 'monotone', fill: false, order: 0};
}
function wallDs(xv, ymax){
  return {label: 'wall', data: [{x: xv, y: 0}, {x: xv, y: ymax}], showLine: true, borderColor: '#222', borderWidth: 1.1,
    borderDash: [6, 4], pointRadius: 0, fill: false, order: 2};
}

const qTitle = 'q [Å⁻¹]';
function mainPanel(o){
  return build({box: o.box, yTitleX: o.yTitleX, xTitleY: 310, xTitleSize: 17.5, yTitleSize: 17.5, bold: true, tickSize: SZ.main, xPad: 7, yPad: 5, padT: 16, padR: 18,
    x: {min: 0.01, max: o.xmax, ticks: o.xt, labels: o.xl, title: qTitle},
    y: {type: 'logarithmic', min: o.ymin, max: o.ymax, ticks: o.yt, labels: o.yl, title: 'Reflectivity'},
    datasets: o.ds, deco: {legend: o.legend}});
}
function insetPanel(o){
  return build({box: o.box, yTitleX: o.yTitleX, xTitleY: o.xTitleY, xTitleSize: 13, yTitleSize: 13, bold: false, tickSize: SZ.inset, xPad: 2, yPad: 3, padT: 12, padR: 12,
    x: {min: 0.01, max: o.xmax, ticks: insetQTicks, labels: insetQTickLabels, title: qTitle},
    y: {type: 'linear', min: o.ymin, max: o.ymax, ticks: o.yt, labels: o.yl, title: 'Spin Asymmetry'},
    datasets: o.ds, deco: {fill: '#fff', legend: o.legend, majLen: 4, minLen: 2}});
}
function sldPanel(o){
  return build({box: o.box, yTitleX: o.yTitleX, xTitleY: 613, xTitleSize: 17.5, yTitleSize: 19.5, bold: true, tickSize: SZ.main, xPad: 6, yPad: 5, padT: 16, padR: 16,
    x: {min: o.xmin, max: o.xmax, ticks: o.xt, labels: o.xl, title: 'Depth [Å]'},
    y: {type: 'linear', min: 0, max: o.ymax, ticks: o.yt, labels: o.yl, title: o.ytitle},
    datasets: [simDs('SLD', o.sld, o.col, 2.4), wallDs(o.walls[0], o.ymax), wallDs(o.walls[1], o.ymax)],
    deco: {shade: o.shade, notes: o.notes}});
}

mainPanel({box: {l: 60, t: 46, r: 306, b: 272}, yTitleX: 20, xmax: 0.075, xt: qTicks, xl: qTickLabels,
  ymin: 7.6e-6, ymax: 1.38, yt: reflTicks, yl: reflTickLabels,
  ds: [expDs('Experiment (++)', sto001ExpUp, '#ff8a00', '#ffab55'), expDs('Experiment (--)', sto001ExpDn, '#8b1414', '#b86a6a'),
       simDs('Simulation (++)', sto001SimUp, '#ff8a00'), simDs('Simulation (--)', sto001SimDn, '#800000')],
  legend: {items: [0,1,2,3], x: 10, y: 160, dy: 15.6, w: 25, gap: 3, size: SZ.legend}});
mainPanel({box: {l: 396, t: 45, r: 641, b: 272}, yTitleX: 352, xmax: 0.075, xt: qTicks, xl: qTickLabels,
  ymin: 9.5e-6, ymax: 1.3, yt: reflTicks, yl: reflTickLabels,
  ds: [expDs('Experiment (++)', sto110ExpUp, '#159595', '#5fb8b8'), expDs('Experiment (--)', sto110ExpDn, '#1c1c8a', '#6a6ab0'),
       simDs('Simulation (++)', sto110SimUp, '#139393'), simDs('Simulation (–)', sto110SimDn, '#0a0a78')],
  legend: {items: [0,1,2,3], x: 6, y: 165, dy: 15.3, w: 25, gap: 4, size: SZ.legend}});
mainPanel({box: {l: 731, t: 42, r: 975, b: 271}, yTitleX: 692, xmax: 0.0645, xt: qTicksLAO, xl: qTickLabelsLAO,
  ymin: 3.5e-5, ymax: 1.4, yt: reflTicksLAO, yl: reflTickLabelsLAO,
  ds: [expDs('Experiment (++)', laoExpUp, '#8c8c00', '#b0b050'), expDs('Experiment (--)', laoExpDn, '#22a022', '#66bb66'),
       simDs('Simulation (++)', laoSimUp, '#8b8b00'), simDs('Simulation (–)', laoSimDn, '#1e961e')],
  legend: {items: [0,1,2,3], x: 7, y: 165, dy: 15, w: 27, gap: 3, size: SZ.legend}});

insetPanel({box: {l: 183, t: 46, r: 306, b: 157}, yTitleX: 153, xTitleY: 185, xmax: 0.072, ymin: -0.7, ymax: 0.92,
  yt: saTicks001, yl: saTickLabels001,
  ds: [expDs('Experiment', sto001SaExp, '#ff1a1a', '#ff1a1a'), simDs('Simulation', sto001SaSim, '#ff1a1a', 1.6)],
  legend: {items: [0,1], x: 5, y: 85, dy: 16, w: 25, gap: 3, size: SZ.ilegend}});
insetPanel({box: {l: 518, t: 45, r: 641, b: 157}, yTitleX: 492, xTitleY: 183, xmax: 0.074, ymin: -0.815, ymax: 0.93,
  yt: saTicks110, yl: saTickLabels110,
  ds: [expDs('Experiment', sto110SaExp, '#1a1aff', '#1a1aff'), simDs('Simulation', sto110SaSim, '#1a1aff', 1.6)],
  legend: {items: [0,1], x: 10, y: 88, dy: 13.5, w: 25, gap: 3, size: SZ.ilegend}});
insetPanel({box: {l: 853, t: 42, r: 975, b: 157}, yTitleX: 823, xTitleY: 183, xmax: 0.0747, ymin: -0.632, ymax: 0.682,
  yt: saTicksLAO, yl: saTickLabelsLAO,
  ds: [expDs('Experiment', laoSaExp, '#1e8c1e', '#1e8c1e'), simDs('Simulation', laoSaSim, '#1e8c1e', 1.6)],
  legend: {items: [0,1], x: 1, y: 90, dy: 14, w: 26, gap: 3, size: SZ.ilegend}});

sldPanel({box: {l: 61, t: 344, r: 305, b: 573}, yTitleX: 33, xmin: -49, xmax: 528, xt: depthTicks500, xl: depthTickLabels500,
  ymax: 5.5, yt: sldTicks5, yl: sldTickLabels5, ytitle: 'Magnetic SLD [10⁻⁷ Å⁻²]', sld: sto001Sld, col: '#ff1010',
  walls: sto001Walls, shade: sto001Shade,
  notes: [{t: 'Air', x: -23, y: 2.47, rot: true}, {t: 'Film', x: 178, y: 2.47}, {t: 'Substrate', x: 485, y: 2.47, rot: true}]});
sldPanel({box: {l: 397, t: 344, r: 641, b: 573}, yTitleX: 363, xmin: -49, xmax: 450, xt: depthTicks400, xl: depthTickLabels400,
  ymax: 5.5, yt: sldTicks5, yl: sldTickLabels5, ytitle: 'Magnetic SLD [10⁻⁷ Å⁻²]', sld: sto110Sld, col: '#1010ff',
  walls: sto110Walls, shade: sto110Shade,
  notes: [{t: 'Air', x: -22, y: 2.4, rot: true}, {t: 'Film', x: 207, y: 2.4}, {t: 'Substrate', x: 418, y: 2.4, rot: true}]});
sldPanel({box: {l: 733, t: 344, r: 976, b: 573}, yTitleX: 702, xmin: -73, xmax: 478, xt: depthTicks400, xl: depthTickLabels400,
  ymax: 4.5, yt: sldTicks4, yl: sldTickLabels4, ytitle: 'Neutron SLD [10⁻⁷ Å⁻²]', sld: laoSld, col: '#1e8c1e',
  walls: laoWalls, shade: laoShade,
  notes: [{t: 'Air', x: -41, y: 2.26}, {t: 'Film', x: 215, y: 2.29}, {t: 'Substrate', x: 449, y: 2.29, rot: true}]});
</script>
</body></html>
